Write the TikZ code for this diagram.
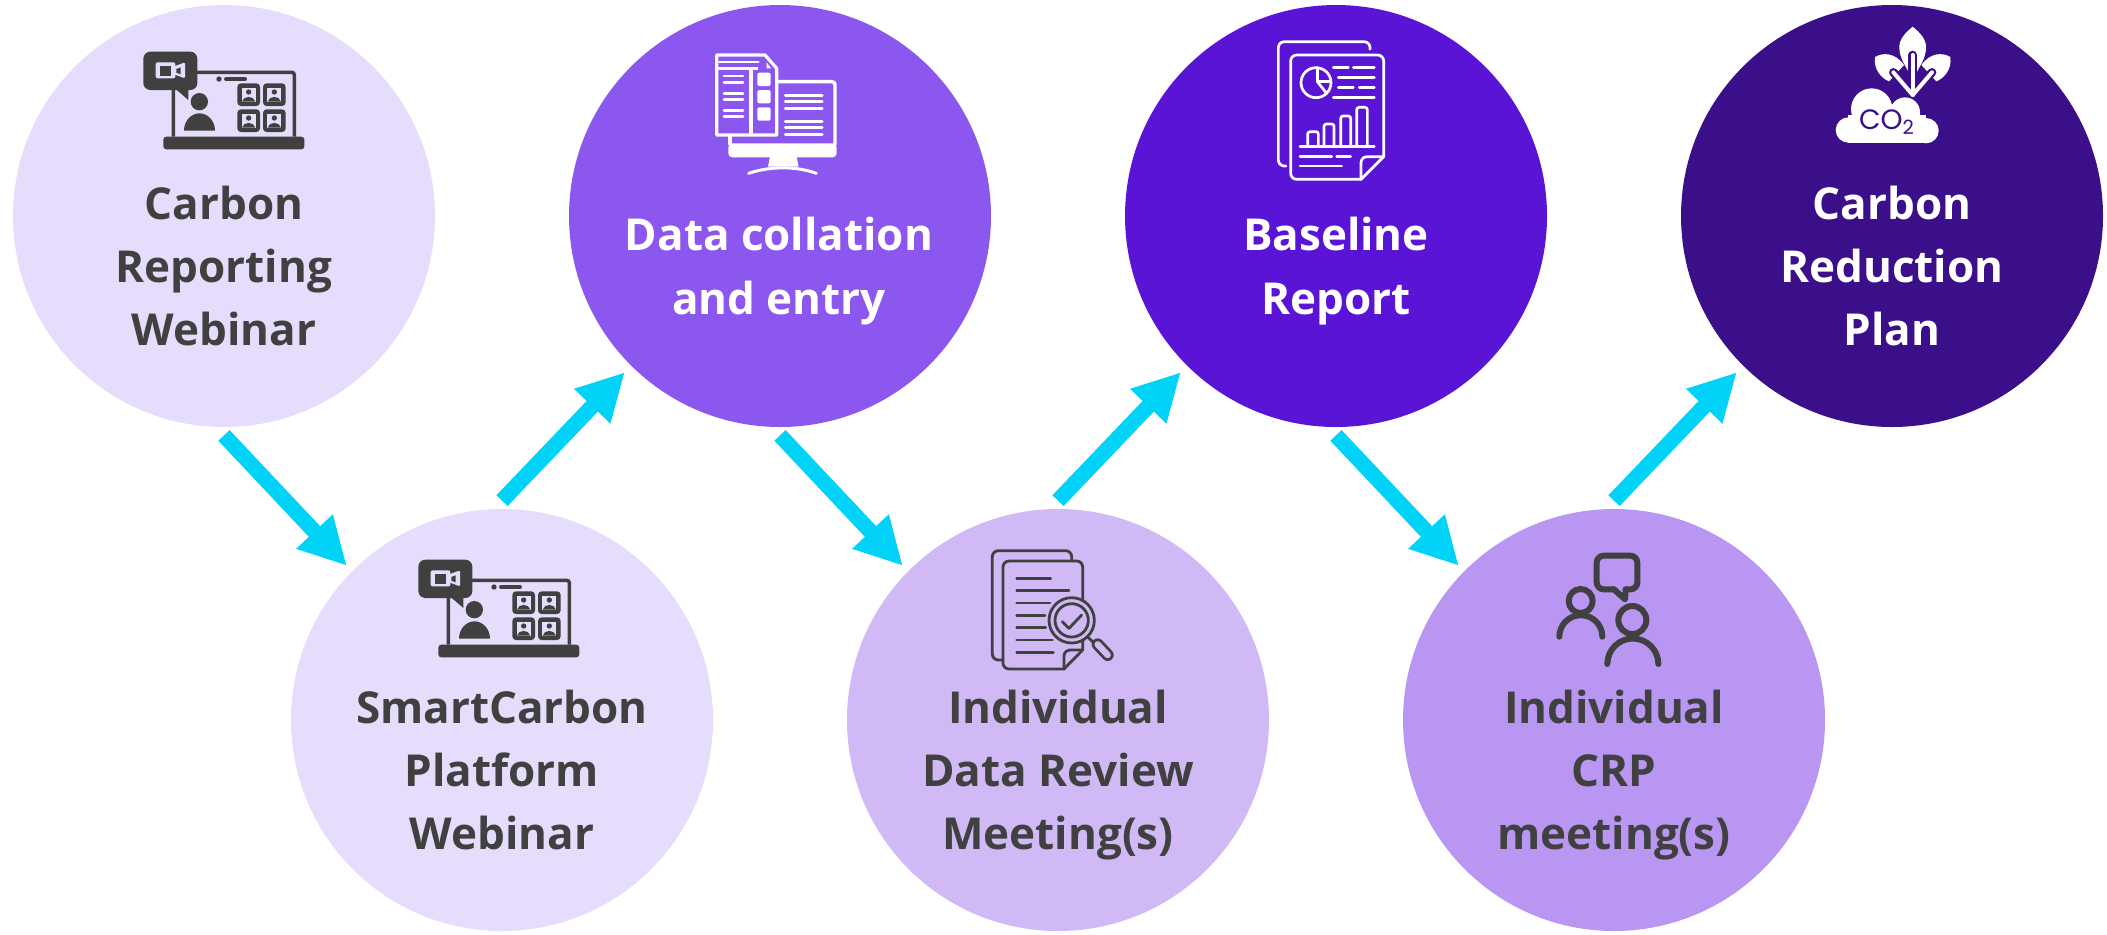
\documentclass[tikz,border=0pt]{standalone}
\usepackage{fontspec}
\setmainfont{Open Sans}
\newfontfamily\iconfont{Poppins}
\usetikzlibrary{arrows.meta, positioning}
\definecolor{stageLilac}{HTML}{E6DCFB}
\definecolor{stagePurple}{HTML}{8B57EE}
\definecolor{stageMauve}{HTML}{D0B9F5}
\definecolor{stageViolet}{HTML}{5A14D6}
\definecolor{stageAmethyst}{HTML}{B896F2}
\definecolor{stageIndigo}{HTML}{3B0E8A}
\definecolor{stageInk}{HTML}{404040}
\definecolor{stageArrow}{HTML}{00D2F8}
\tikzset{
  inkline/.style={draw=#1, line width=1.45pt, line cap=round, line join=round, fill=none},
  pics/webinaricon/.style={code={
    \fill[stageInk, rounded corners=1.5pt] (130,320) rectangle (553,358);
    \draw[stageInk, line width=1.7pt, rounded corners=1.2pt] (160,320) -- (160,127) -- (523,127) -- (523,320);
    \fill[stageInk, rounded corners=3.5pt] (70,65) rectangle (232,180);
    \fill[stageInk] (168,178) -- (205,210) -- (205,178) -- cycle;
    \fill[stageLilac, rounded corners=1pt] (107,97) rectangle (166,145);
    \fill[stageLilac, rounded corners=.6pt] (160,110) -- (195,97) -- (195,145) -- (160,132) -- cycle;
    \fill[stageInk] (120,107) rectangle (153,137);
    \fill[stageInk] (169,117) -- (182,112) -- (182,133) -- (169,128) -- cycle;
    \fill[stageInk] (297,147) circle (8);
    \draw[stageInk, line width=2pt, line cap=round] (318,147) -- (375,147);
    \fill[stageInk] (238,215) circle (26);
    \fill[stageInk] (192,302) arc[start angle=180, end angle=360, x radius=46.5, y radius=52] -- cycle;
    \foreach \tilex/\tiley in {352/160, 429/160, 352/238, 429/238} {
      \begin{scope}[shift={(\tilex,\tiley)}]
        \fill[stageInk, rounded corners=1.8pt] (0,0) rectangle (68,68);
        \fill[stageLilac] (13,13) rectangle (55,55);
        \fill[stageInk] (34,26) circle (8);
        \fill[stageInk] (14,55) .. controls (18,36) and (50,36) .. (54,55) -- cycle;
      \end{scope}
    }
  }},
  pics/collationicon/.style={code={
    \draw[white, line width=1.7pt, rounded corners=1.5pt] (260,155) -- (435,155) -- (435,345);
    \fill[white, rounded corners=2pt] (115,340) -- (440,340) -- (440,382) -- (115,382) -- cycle;
    \draw[white, line width=1.7pt] (120,315) -- (120,345);
    \fill[white] (240,380) -- (320,380) -- (326,410) -- (234,410) -- cycle;
    \draw[white, line width=1.5pt, line cap=round] (176,430) .. controls (240,408) and (320,408) .. (379,430);
    \draw[white, line width=1.6pt, line join=round] (80,75) -- (225,75) -- (260,115) -- (260,315) -- (80,315) -- cycle;
    \fill[white] (230,97) -- (243,115) -- (230,115) -- cycle;
    \draw[white, line width=1.4pt, line cap=round] (88,96) -- (205,96);
    \draw[white, line width=1.8pt] (85,115) -- (205,115);
    \draw[white, line width=2pt] (183,115) -- (183,315);
    \foreach \rowy in {138, 157, 190, 208, 242, 260} {
      \draw[white, line width=1.4pt, line cap=round] (102,\rowy) -- (159,\rowy);
    }
    \foreach \boxy in {128, 180, 232} {
      \fill[white, rounded corners=1pt] (202,\boxy) rectangle (242,\boxy+40);
    }
    \foreach \rowy in {195, 215, 236, 274, 293, 314} {
      \draw[white, line width=1.5pt, line cap=round] (286,\rowy) -- (396,\rowy);
    }
  }},
  pics/reporticon/.style={code={
    \begin{scope}[inkline=white, line width=1.35pt]
      \draw[rounded corners=3pt] (330,58) -- (330,35) -- (55,35) -- (55,408) -- (78,408);
      \draw[rounded corners=3pt] (303,448) -- (92,448) -- (92,75) -- (371,75) -- (371,380);
      \draw (371,380) -- (303,448);
      \draw[rounded corners=3pt] (371,380) -- (303,380) -- (303,448);
      \draw (168,158) circle (45);
      \draw (172,113) -- (172,155) -- (212,155);
      \draw (172,155) -- (200,190);
      \draw (220,113) -- (265,113);
      \draw (280,113) -- (343,113);
      \draw (235,143) -- (343,143);
      \draw (235,172) -- (280,172);
      \draw (298,172) -- (343,172);
      \draw (220,202) -- (343,202);
      \draw[rounded corners=1.2pt] (143,350) -- (143,305) -- (175,305) -- (175,350);
      \draw[rounded corners=1.2pt] (192,350) -- (192,282) -- (222,282) -- (222,350);
      \draw[rounded corners=1.2pt] (242,350) -- (242,258) -- (272,258) -- (272,350);
      \draw[rounded corners=1.2pt] (290,350) -- (290,232) -- (322,232) -- (322,350);
      \draw (120,350) -- (343,350);
      \draw (120,380) -- (215,380);
      \draw (230,380) -- (272,380);
      \draw (120,408) -- (245,408);
    \end{scope}
  }},
  pics/reviewicon/.style={code={
    \begin{scope}[inkline=stageInk, line width=1.4pt]
      \draw[rounded corners=3pt] (290,78) -- (290,47) -- (52,47) -- (52,375) -- (84,375);
      \draw[rounded corners=3pt] (267,402) -- (84,402) -- (84,78) -- (323,78) -- (323,345);
      \draw (323,345) -- (267,402);
      \draw[rounded corners=3pt] (323,345) -- (267,345) -- (267,402);
      \foreach \rowy/\rowx in {130/227, 167/282, 204/225, 241/210, 278/212, 315/232, 352/235} {
        \draw (125,\rowy) -- (\rowx,\rowy);
      }
      \draw[fill=stageMauve] (290,256) circle (68);
      \draw (290,256) circle (50);
      \draw (262,260) -- (282,280) -- (320,240);
      \draw (337,305) -- (358,325);
      \draw[line width=6pt] (368,328) -- (398,360);
      \draw[stageMauve, line width=3.2pt] (368,328) -- (398,360);
    \end{scope}
  }},
  pics/meetingicon/.style={code={
    \begin{scope}[inkline=stageInk, line width=3pt]
      \draw[rounded corners=3.5pt] (222,148) -- (170,148) -- (170,47) -- (292,47) -- (292,148) -- (257,148);
      \draw (222,148) -- (255,178) -- (257,148);
      \draw (122,183) circle (36);
      \draw (58,290) arc[start angle=180, end angle=360, radius=64.5];
      \draw (277,240) circle (42);
      \draw (202,372) arc[start angle=180, end angle=360, radius=76.5];
    \end{scope}
  }},
  pics/reductionicon/.style={code={
    \fill[white] (85,345) circle (38);
    \fill[white] (155,282) circle (62);
    \fill[white] (255,292) circle (45);
    \fill[white] (318,347) circle (38);
    \fill[white] (85,300) rectangle (318,385);
    \fill[white] (278,35) .. controls (258,52) and (236,72) .. (238,100) .. controls (239,130) and (258,155) .. (265,170) -- (291,170) .. controls (298,155) and (317,130) .. (318,100) .. controls (320,72) and (298,52) .. (278,35) -- cycle;
    \fill[white] (165,126) .. controls (188,112) and (225,112) .. (252,150) -- (207,199) .. controls (185,190) and (160,165) .. (165,126) -- cycle;
    \fill[white] (391,126) .. controls (368,112) and (331,112) .. (304,150) -- (349,199) .. controls (371,190) and (396,165) .. (391,126) -- cycle;
    \draw[stageIndigo, line width=4.3pt, line cap=round, line join=round] (278,120) -- (278,225);
    \draw[stageIndigo, line width=4.3pt, line cap=round, line join=round] (220,172) -- (278,232) -- (336,172);
    \draw[white, line width=2pt, line cap=round, line join=round] (278,120) -- (278,240);
    \draw[white, line width=2pt, line cap=round, line join=round] (220,172) -- (278,240) -- (336,172);
  }}
}
\begin{document}
\begin{tikzpicture}[
  x=0.5pt, y=-0.5pt,
  stage/.style={circle, minimum size=211pt, inner sep=0pt},
  stagetext/.style={align=center, inner sep=0pt, font=\fontsize{22}{31.6}\selectfont\bfseries},
  arrow/.style={-{Triangle[length=23.5pt, width=23.5pt]}, line width=7.75pt, color=stageArrow}
]
  \useasboundingbox (0,0) rectangle (2107,934);
  \node[stage, fill=stageLilac] (c1) at (224,216) {};
  \node[stage, fill=stageLilac] (c2) at (502,720) {};
  \node[stage, fill=stagePurple] (c3) at (780,216) {};
  \node[stage, fill=stageMauve] (c4) at (1058,720) {};
  \node[stage, fill=stageViolet] (c5) at (1336,216) {};
  \node[stage, fill=stageAmethyst] (c6) at (1614,720) {};
  \node[stage, fill=stageIndigo] (c7) at (1892,216) {};

  \pic[scale=1/3] at (120,30) {webinaricon};
  \pic[scale=1/3] at (395,538) {webinaricon};
  \pic[scale=1/3] at (690,30) {collationicon};
  \pic[scale=1/3] at (1260,30) {reporticon};
  \pic[scale=1/3] at (975,535) {reviewicon};
  \pic[scale=1/3] at (1540,540) {meetingicon};
  \pic[scale=1/3] at (1820,15) {reductionicon};
  \node[inner sep=0pt, text=stageIndigo, font=\iconfont\fontsize{14}{14}\selectfont] (co2) at (1887,122) {CO\textsubscript{2}};

  \node[stagetext, text=stageInk] (t1) at (224,266) {Carbon\\Reporting\\Webinar};
  \node[stagetext, text=stageInk] (t2) at (502,770) {SmartCarbon\\Platform\\Webinar};
  \node[stagetext, text=white] (t3) at (779,271) {Data collation\\and entry};
  \node[stagetext, text=stageInk] (t4) at (1058,775) {Individual\\Data Review\\Meeting(s)};
  \node[stagetext, text=white] (t5) at (1336,271) {Baseline\\Report};
  \node[stagetext, text=stageInk] (t6) at (1614,775) {Individual\\CRP\\meeting(s)};
  \node[stagetext, text=white] (t7) at (1892,266) {Carbon\\Reduction\\Plan};

  \draw[arrow] ([yshift=-4pt]c1.south) -- ([shift={(-2.9pt,2.4pt)}]c2.135);
  \draw[arrow] ([yshift=4pt]c2.north) -- ([shift={(-2.9pt,-3.4pt)}]c3.-135);
  \draw[arrow] ([yshift=-4pt]c3.south) -- ([shift={(-2.9pt,2.4pt)}]c4.135);
  \draw[arrow] ([yshift=4pt]c4.north) -- ([shift={(-2.9pt,-3.4pt)}]c5.-135);
  \draw[arrow] ([yshift=-4pt]c5.south) -- ([shift={(-2.9pt,2.4pt)}]c6.135);
  \draw[arrow] ([yshift=4pt]c6.north) -- ([shift={(-2.9pt,-3.4pt)}]c7.-135);
\end{tikzpicture}
\end{document}
